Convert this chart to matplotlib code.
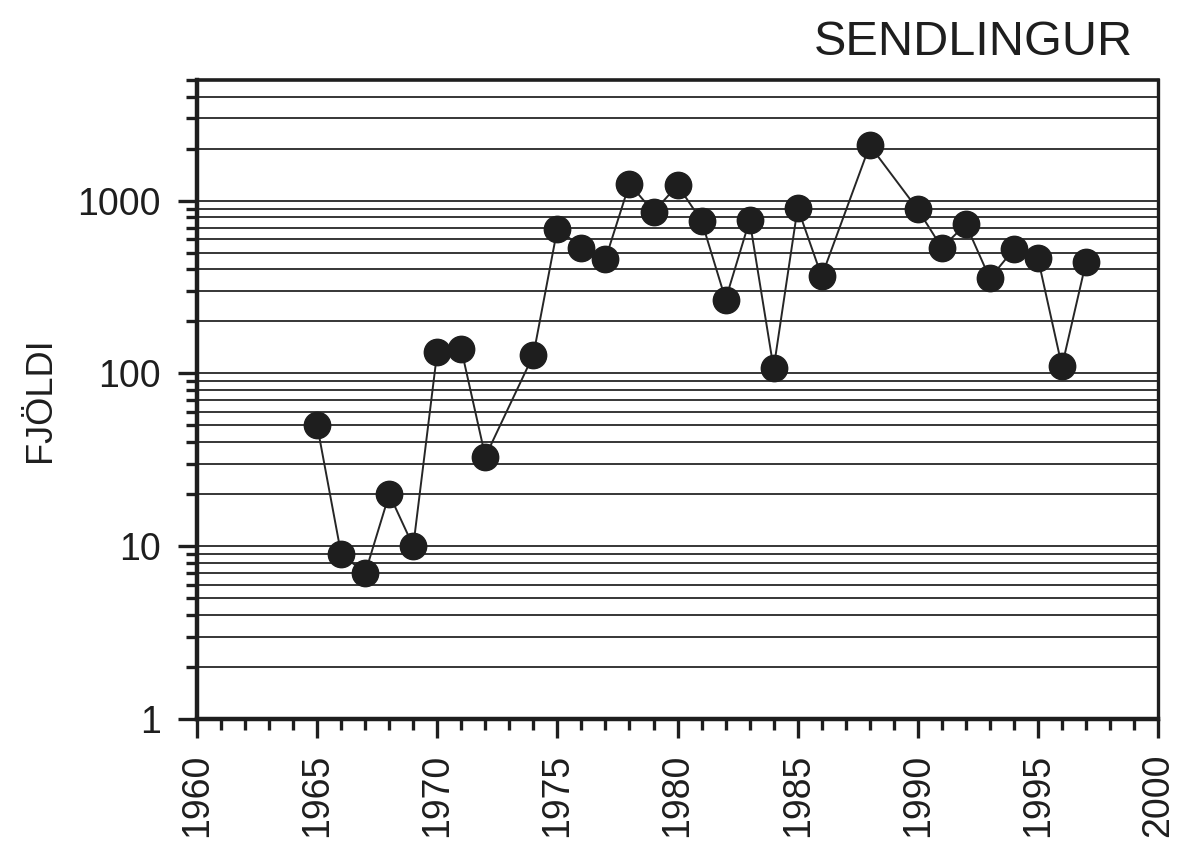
import numpy as np
import matplotlib
matplotlib.use("Agg")
import matplotlib.pyplot as plt
from matplotlib.ticker import LogLocator, FixedLocator, NullFormatter

plt.rcParams['font.family'] = ['Liberation Sans', 'DejaVu Sans']

#~~~~~~~~ data ~~~~~~~~~~~~
years = [1965, 1966, 1967, 1968, 1969, 1970, 1971, 1972, 1974, 1975,
         1976, 1977, 1978, 1979, 1980, 1981, 1982, 1983, 1984, 1985,
         1986, 1988, 1990, 1991, 1992, 1993, 1994, 1995, 1996, 1997]
counts = [50, 9, 7, 20, 10, 134, 138, 33, 128, 690,
          535, 460, 1255, 860, 1230, 765, 268, 770, 107, 910,
          365, 2090, 890, 535, 730, 355, 525, 465, 110, 440]
title = "SENDLINGUR"
ylabel = "FJÖLDI"
#~~~~~~~~~~~~~~~~~~~~~~~~~~~

ink = '#1e1e1e'

fig = plt.figure(figsize=(11.77, 8.43), dpi=100)
ax = fig.add_axes([0.1674, 0.1471, 0.9839 - 0.1674, 0.9051 - 0.1471])

ax.set_yscale('log')
ax.set_ylim(1, 5000)
ax.set_xlim(1960, 2000)

# horizontal lines at every log tick
grid_vals = [m * 10 ** e for e in range(0, 4) for m in range(1, 10)]
grid_vals = [v for v in grid_vals if 1 < v < 5000]
for v in grid_vals:
    ax.axhline(v, color='#262626', lw=1.3, zorder=1)

ax.plot(years, counts, color='#262626', lw=1.4, zorder=2)
ax.plot(years, counts, 'o', ms=19, color=ink, zorder=3)

ax.yaxis.set_major_locator(FixedLocator([1, 10, 100, 1000]))
ax.yaxis.set_minor_locator(LogLocator(base=10, subs=np.arange(2, 10), numticks=20))
ax.yaxis.set_minor_formatter(NullFormatter())
ax.set_yticklabels(['1', '10', '100', '1000'])

ax.set_xticks(np.arange(1960, 2001, 5))
ax.set_xticks(np.arange(1960, 2001, 1), minor=True)
ax.set_xticklabels([str(y) for y in range(1960, 2001, 5)], rotation=90)

ax.tick_params(axis='both', which='major', direction='out', length=14, width=2.4,
               labelsize=27, color=ink, labelcolor=ink)
ax.tick_params(axis='both', which='minor', direction='out', length=8, width=2.4,
               color=ink)
ax.tick_params(axis='y', which='major', pad=12)
ax.tick_params(axis='x', which='major', pad=11)

ax.spines['left'].set_linewidth(3.2)
ax.spines['bottom'].set_linewidth(3.2)
ax.spines['top'].set_linewidth(2.6)
ax.spines['right'].set_linewidth(2.4)
for s in ax.spines.values():
    s.set_color(ink)

ax.set_ylabel(ylabel, fontsize=26, color=ink, labelpad=14)
fig.text(0.9626, 0.950, title, fontsize=35, ha='right', va='center', color=ink)

fig.savefig('out.png', dpi=100)
